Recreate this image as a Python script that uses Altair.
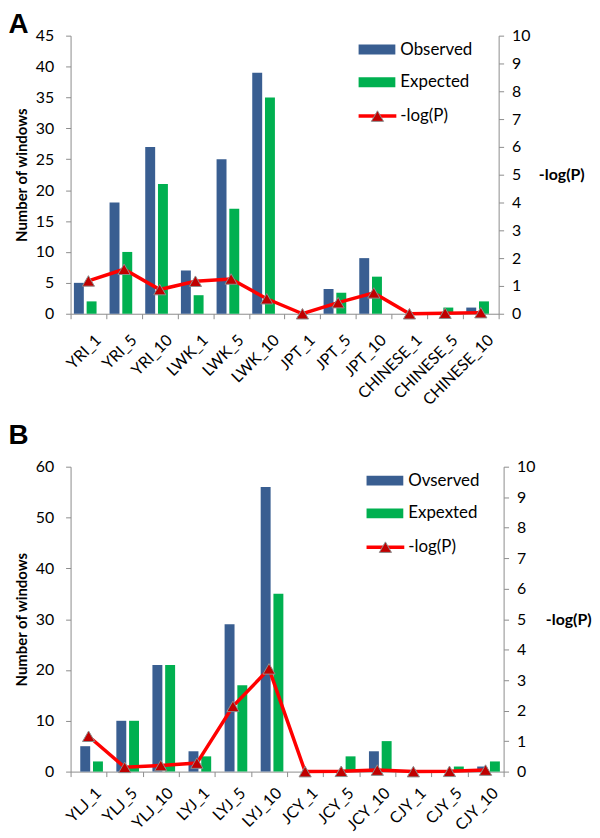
import altair as alt
import pandas as pd

# ---------------- data ----------------
cats_a = ["YRI_1", "YRI_5", "YRI_10", "LWK_1", "LWK_5", "LWK_10",
          "JPT_1", "JPT_5", "JPT_10", "CHINESE_1", "CHINESE_5", "CHINESE_10"]
obs_a = [5, 18, 27, 7, 25, 39, 0, 4, 9, 0, 0, 1]
exp_a = [2, 10, 21, 3, 17, 35, 0, 3.4, 6, 0, 1, 2]
logp_a = [1.18, 1.6, 0.87, 1.17, 1.25, 0.54, 0, 0.4, 0.75, 0, 0.02, 0.04]
series_a = ["Observed", "Expected"]

cats_b = ["YLJ_1", "YLJ_5", "YLJ_10", "LYJ_1", "LYJ_5", "LYJ_10",
          "JCY_1", "JCY_5", "JCY_10", "CJY_1", "CJY_5", "CJY_10"]
obs_b = [5, 10, 21, 4, 29, 56, 0, 0, 4, 0, 0, 1]
exp_b = [2, 10, 21, 3, 17, 35, 0, 3, 6, 0, 1, 2]
logp_b = [1.16, 0.14, 0.2, 0.28, 2.14, 3.37, 0, 0.01, 0.05, 0, 0.01, 0.05]
series_b = ["Ovserved", "Expexted"]

left_ticks_a = list(range(0, 46, 5))
left_ticks_b = list(range(0, 61, 10))
right_ticks = list(range(0, 11))

BLUE = "#395E91"
GREEN = "#00B050"
RED = "#FF0000"
DARKRED = "#C00000"
GRAY = "#8C8C8C"
FONT = "Lato"


def panel(letter, cats, obs, exp, logp, series, left_max, left_ticks,
          width, height, title_pad, right_title_x, letter_offset, legend_x,
          label_pad):
    bars = pd.DataFrame({
        "cat": cats * 2,
        "series": [series[0]] * len(cats) + [series[1]] * len(cats),
        "value": obs + exp,
    })
    line = pd.DataFrame({"cat": cats, "logp": logp})

    xenc = alt.X("cat:N", sort=cats, title=None,
                 scale=alt.Scale(paddingInner=0, paddingOuter=0),
                 axis=alt.Axis(labelAngle=-45, labelAlign="right",
                               labelBaseline="top", labelPadding=label_pad,
                               labelOffset=4,
                               tickBand="extent", tickSize=5,
                               labelFont=FONT, labelFontSize=16,
                               labelColor="#000000", domainColor=GRAY,
                               tickColor=GRAY, grid=False,
                               labelOverlap=False))

    bar_layer = alt.Chart(bars).mark_bar(size=10).encode(
        x=xenc,
        xOffset=alt.XOffset("series:N", sort=series,
                            scale=alt.Scale(paddingInner=0, paddingOuter=0.8)),
        y=alt.Y("value:Q", title="Number of windows",
                scale=alt.Scale(domain=[0, left_max], nice=False),
                axis=alt.Axis(values=left_ticks, grid=False, tickSize=5,
                              labelPadding=12, labelFont=FONT,
                              labelFontSize=16, labelColor="#000000",
                              titleFont=FONT, titleFontSize=15,
                              titleFontWeight="bold", titleColor="#000000",
                              titlePadding=title_pad, labelOverlap=False,
                              domainColor=GRAY, tickColor=GRAY)),
        color=alt.Color("series:N", sort=series,
                        scale=alt.Scale(domain=series, range=[BLUE, GREEN]),
                        legend=None),
    )

    yr = alt.Y("logp:Q", title="-log(P)",
               scale=alt.Scale(domain=[0, 10], nice=False),
               axis=alt.Axis(orient="right", values=right_ticks, grid=False,
                             tickSize=5, labelPadding=8, labelFont=FONT,
                             labelFontSize=16, labelColor="#000000",
                             labelOverlap=False,
                             titleFont=FONT, titleFontSize=16,
                             titleFontWeight="bold", titleColor="#000000",
                             titleAngle=0, titleAlign="left",
                             titleBaseline="middle", titleX=right_title_x,
                             titleY=height / 2,
                             domainColor=GRAY, tickColor=GRAY))

    base = alt.Chart(line).encode(x=alt.X("cat:N", sort=cats), y=yr)
    line_layer = base.mark_line(color=RED, strokeWidth=3.5)
    pt_layer = base.mark_point(
        shape="triangle-up", filled=True, fill=DARKRED, stroke=GRAY,
        strokeWidth=1, opacity=1, size=150)
    logp_layer = alt.layer(line_layer, pt_layer)

    # legend (drawn manually to mimic the spreadsheet legend)
    lx = legend_x
    tx = lx + 42
    rows = [14, 47, 81]
    leg = []
    for i, (name, col) in enumerate(zip(series, [BLUE, GREEN])):
        d = pd.DataFrame({"label": [name]})
        leg.append(alt.Chart(d).mark_rect(color=col).encode(
            x=alt.value(lx), x2=alt.value(lx + 37),
            y=alt.value(rows[i] - 5), y2=alt.value(rows[i] + 5)))
        leg.append(alt.Chart(d).mark_text(
            align="left", baseline="middle", font=FONT, fontSize=17,
            color="#000000").encode(
            x=alt.value(tx), y=alt.value(rows[i]), text="label:N"))
    d3 = pd.DataFrame({"label": ["-log(P)"]})
    leg.append(alt.Chart(d3).mark_rule(color=RED, strokeWidth=3.5).encode(
        x=alt.value(lx), x2=alt.value(lx + 38), y=alt.value(rows[2])))
    leg.append(alt.Chart(d3).mark_point(
        shape="triangle-up", filled=True, fill=DARKRED, stroke=GRAY,
        strokeWidth=1, opacity=1, size=150).encode(
        x=alt.value(lx + 19), y=alt.value(rows[2])))
    leg.append(alt.Chart(d3).mark_text(
        align="left", baseline="middle", font=FONT, fontSize=17,
        color="#000000").encode(
        x=alt.value(tx), y=alt.value(rows[2]), text="label:N"))

    ch = alt.layer(bar_layer, logp_layer, *leg).resolve_scale(
        y="independent", color="independent").properties(
        width=width, height=height,
        title=alt.TitleParams(letter, anchor="start", frame="bounds",
                              font="Liberation Sans", fontSize=28,
                              fontWeight="bold", color="#000000",
                              offset=letter_offset, dx=-6))
    return ch


top = panel("A", cats_a, obs_a, exp_a, logp_a, series_a, 45, left_ticks_a,
            431, 280, 6, 40, -11, 290, 13)
bottom = panel("B", cats_b, obs_b, exp_b, logp_b, series_b, 60, left_ticks_b,
               436, 307, 6, 42, 9, 298, 8)

chart = alt.concat(top, bottom, columns=1, spacing=14).properties(
    padding=0, align="none").configure_view(stroke=None)

chart.save("out.html", embed_options={"renderer": "svg", "actions": False})
